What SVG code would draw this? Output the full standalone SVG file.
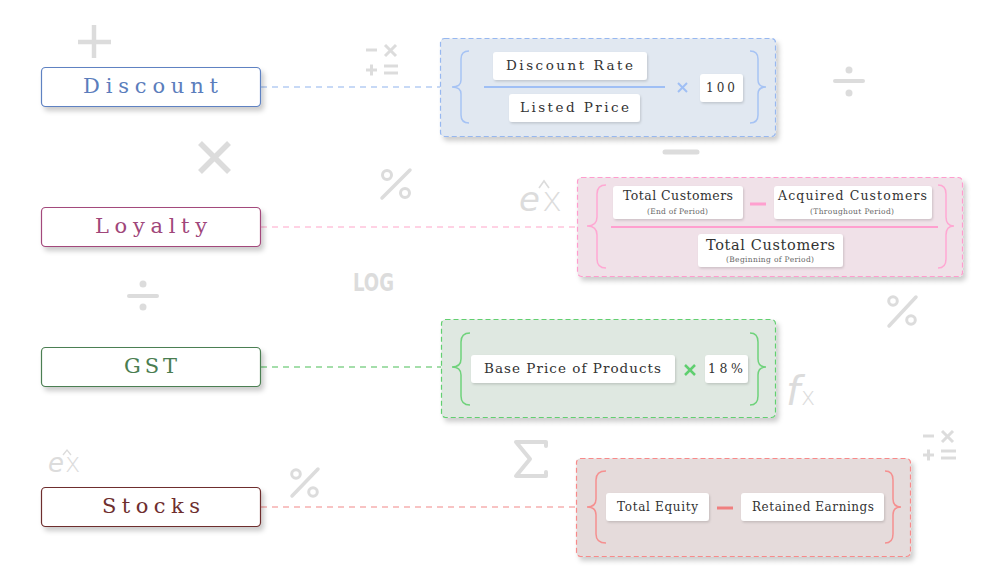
<svg xmlns="http://www.w3.org/2000/svg" width="993" height="574" viewBox="0 0 993 574">
<defs>
<filter id="sh" x="-10%" y="-20%" width="125%" height="150%"><feDropShadow dx="3" dy="4" stdDeviation="2.5" flood-color="#000" flood-opacity="0.2"/></filter>
<filter id="sh2" x="-10%" y="-20%" width="125%" height="150%"><feDropShadow dx="1" dy="1.5" stdDeviation="1.2" flood-color="#000" flood-opacity="0.15"/></filter>
<style>
.node rect{fill:#fff;stroke-width:1.2;filter:url(#sh)}
.node text{font-family:"DejaVu Serif","Liberation Serif",serif;font-size:21px;text-anchor:middle}
.panel{stroke-width:1.2;stroke-dasharray:5 3;filter:url(#sh)}
.box{fill:#fff;filter:url(#sh2)}
.t{font-family:"DejaVu Serif","Liberation Serif",serif;fill:#333;text-anchor:middle}
.s{font-family:"DejaVu Serif","Liberation Serif",serif;fill:#666;text-anchor:middle;font-size:7.5px}
.brace{fill:none;stroke-width:1.5}
.conn line{stroke-width:1.3;stroke-dasharray:6 5}
.ic{stroke:#dcdcdc;fill:none}
.ict{fill:#dcdcdc}
</style>
</defs>
<rect width="993" height="574" fill="#fff"/>

<!-- decorative icons -->
<g id="icons">
<g class="ic" stroke-width="4.5"><line x1="78" y1="42" x2="111" y2="42"/><line x1="94" y1="25" x2="94" y2="58"/></g>
<g class="ic" stroke-width="5.5"><line x1="200" y1="143" x2="229" y2="172"/><line x1="229" y1="143" x2="200" y2="172"/></g>
<g class="ic" stroke-width="3.5" stroke-linecap="round"><line x1="410" y1="170" x2="382" y2="198"/><circle cx="387" cy="175" r="4.5" stroke-width="3"/><circle cx="405" cy="193" r="4.5" stroke-width="3"/></g>
<g class="ic" stroke-width="3.5" stroke-linecap="round"><line x1="318" y1="469" x2="292" y2="496"/><circle cx="296" cy="474" r="4.3" stroke-width="3"/><circle cx="313" cy="492" r="4.3" stroke-width="3"/></g>
<g class="ic" stroke-width="3.5" stroke-linecap="round"><line x1="916" y1="297" x2="889" y2="326"/><circle cx="893" cy="301" r="4.3" stroke-width="3"/><circle cx="911" cy="320" r="4.3" stroke-width="3"/></g>
<g class="ic" stroke-width="3"><line x1="366" y1="50" x2="377" y2="50"/><line x1="385" y1="45" x2="396" y2="56"/><line x1="396" y1="45" x2="385" y2="56"/><line x1="366" y1="70" x2="377" y2="70"/><line x1="371.5" y1="64.5" x2="371.5" y2="75.5"/><line x1="384" y1="66" x2="398" y2="66"/><line x1="384" y1="73" x2="398" y2="73"/></g>
<g class="ic" stroke-width="3"><line x1="923" y1="436" x2="934" y2="436"/><line x1="942" y1="431" x2="953" y2="442"/><line x1="953" y1="431" x2="942" y2="442"/><line x1="923" y1="455" x2="934" y2="455"/><line x1="928.5" y1="449.5" x2="928.5" y2="460.5"/><line x1="941" y1="451" x2="956" y2="451"/><line x1="941" y1="458" x2="956" y2="458"/></g>
<g class="ic" stroke-width="4" stroke-linecap="round"><line x1="835" y1="81" x2="863" y2="81"/></g>
<g class="ict"><circle cx="849" cy="70" r="3.5"/><circle cx="849" cy="93" r="3.5"/></g>
<g class="ic" stroke-width="4" stroke-linecap="round"><line x1="129" y1="296" x2="157" y2="296"/></g>
<g class="ict"><circle cx="143" cy="284" r="3.5"/><circle cx="143" cy="307" r="3.5"/></g>
<line x1="665" y1="152" x2="697" y2="152" stroke="#dcdcdc" stroke-width="5" stroke-linecap="round"/>
<path class="ic" stroke-width="4" stroke-linejoin="round" stroke-linecap="round" d="M546,446 L546,442 L516,442 L530,459 L516,476 L546,476 L546,472"/>
<text x="373.5" y="291" class="ict" font-family="DejaVu Sans" font-weight="bold" font-size="24" text-anchor="middle" textLength="41" lengthAdjust="spacingAndGlyphs">LOG</text>
<text x="786" y="405" class="ict" font-family="DejaVu Sans" font-style="italic" font-size="40" font-weight="200">f<tspan font-size="24" font-style="normal" dx="1">x</tspan></text>
<text x="519" y="211" class="ict" font-family="DejaVu Sans" font-style="italic" font-size="34" font-weight="200">e<tspan font-style="normal" dx="2">x</tspan></text>
<path class="ic" stroke-width="1.6" d="M539,188 L544,181 L549,188"/>
<text x="48" y="472" class="ict" font-family="DejaVu Sans" font-style="italic" font-size="26" font-weight="200">e<tspan font-style="normal" dx="1">x</tspan></text>
<path class="ic" stroke-width="1.3" d="M63,455 L67,450 L71,455"/>
</g>

<!-- connectors -->
<g id="connectors" class="conn">
<line x1="261" y1="87" x2="440" y2="87" stroke="#b5cdf4"/>
<line x1="261" y1="227" x2="577" y2="227" stroke="#ffc3dc"/>
<line x1="261" y1="367" x2="441" y2="367" stroke="#86d38e"/>
<line x1="261" y1="507" x2="576" y2="507" stroke="#f6b0b0"/>
</g>

<!-- left nodes -->
<g id="node-discount" class="node"><rect x="41.5" y="67.5" width="219" height="39" rx="4" stroke="#5f82c2"/><text x="150.5" y="93" fill="#5b7dbc" textLength="135" lengthAdjust="spacing">Discount</text></g>
<g id="node-loyalty" class="node"><rect x="41.5" y="207.5" width="219" height="39" rx="4" stroke="#a3497b"/><text x="151" y="233" fill="#a0467a" textLength="112" lengthAdjust="spacing">Loyalty</text></g>
<g id="node-gst" class="node"><rect x="41.5" y="347.5" width="219" height="39" rx="4" stroke="#4c7f52"/><text x="150.5" y="373" fill="#4a7d50" textLength="53" lengthAdjust="spacing">GST</text></g>
<g id="node-stocks" class="node"><rect x="41.5" y="487.5" width="219" height="39" rx="4" stroke="#6e2e2e"/><text x="151" y="513" fill="#6e2e2e" textLength="98" lengthAdjust="spacing">Stocks</text></g>

<!-- Discount formula -->
<g id="formula-discount">
<rect class="panel" x="440.5" y="38.5" width="335" height="98" rx="4" fill="#e1e8f1" stroke="#97b8f0"/>
<path class="brace" stroke="#a6c3f4" d="M469,51 Q461,51 461,59 L461,80 Q461,87 452,87 Q461,87 461,94 L461,115 Q461,123 469,123"/>
<path class="brace" stroke="#a6c3f4" d="M750,51 Q758,51 758,59 L758,80 Q758,87 766,87 Q758,87 758,94 L758,115 Q758,123 750,123"/>
<rect class="box" x="493" y="52" width="154" height="28" rx="3"/>
<text class="t" x="569.5" y="70" font-size="13.5" textLength="127" lengthAdjust="spacing">Discount Rate</text>
<line x1="484" y1="87" x2="665" y2="87" stroke="#9fbff5" stroke-width="2"/>
<rect class="box" x="509" y="94" width="131" height="28" rx="3"/>
<text class="t" x="574.5" y="112" font-size="13.5" textLength="109" lengthAdjust="spacing">Listed Price</text>
<g stroke="#9fbff5" stroke-width="2"><line x1="678" y1="83" x2="687" y2="92"/><line x1="687" y1="83" x2="678" y2="92"/></g>
<rect class="box" x="700" y="74" width="43" height="28" rx="3"/>
<text class="t" x="720.5" y="92" font-size="12" textLength="29" lengthAdjust="spacing">100</text>
</g>

<!-- Loyalty formula -->
<g id="formula-loyalty">
<rect class="panel" x="577.5" y="177.5" width="385" height="99" rx="4" fill="#f0e1e8" stroke="#ff9dce"/>
<path class="brace" stroke="#ffa8d3" d="M606,185 Q597,185 597,194 L597,217 Q597,226 587,226 Q597,226 597,235 L597,259 Q597,268 606,268"/>
<path class="brace" stroke="#ffa8d3" d="M938,185 Q946,185 946,194 L946,217 Q946,226 954,226 Q946,226 946,235 L946,259 Q946,268 938,268"/>
<rect class="box" x="613" y="186" width="130" height="33" rx="3"/>
<text class="t" x="678" y="200" font-size="12.5" textLength="110" lengthAdjust="spacing">Total Customers</text>
<text class="s" x="677.5" y="214" textLength="61" lengthAdjust="spacing">(End of Period)</text>
<line x1="750" y1="204" x2="766" y2="204" stroke="#ff9fcf" stroke-width="3"/>
<rect class="box" x="774" y="186" width="158" height="33" rx="3"/>
<text class="t" x="852.5" y="200" font-size="12.5" textLength="149" lengthAdjust="spacing">Acquired Customers</text>
<text class="s" x="852" y="214" textLength="84" lengthAdjust="spacing">(Throughout Period)</text>
<line x1="611" y1="227" x2="938" y2="227" stroke="#ff9fcf" stroke-width="2"/>
<rect class="box" x="698" y="234" width="145" height="33" rx="3"/>
<text class="t" x="770.5" y="250" font-size="14.5" textLength="129" lengthAdjust="spacing">Total Customers</text>
<text class="s" x="770" y="262" textLength="88" lengthAdjust="spacing">(Beginning of Period)</text>
</g>

<!-- GST formula -->
<g id="formula-gst">
<rect class="panel" x="441.5" y="319.5" width="334" height="98" rx="4" fill="#dfe8e1" stroke="#62cf70"/>
<path class="brace" stroke="#6fd27b" d="M470,333 Q461,333 461,342 L461,359 Q461,367 452,367 Q461,367 461,375 L461,396 Q461,405 470,405"/>
<path class="brace" stroke="#6fd27b" d="M750,333 Q758,333 758,342 L758,359 Q758,367 766,367 Q758,367 758,375 L758,396 Q758,405 750,405"/>
<rect class="box" x="471" y="355" width="204" height="28" rx="3"/>
<text class="t" x="572.5" y="373" font-size="13.5" textLength="177" lengthAdjust="spacing">Base Price of Products</text>
<g stroke="#5fcf6f" stroke-width="2.5"><line x1="685" y1="365" x2="695" y2="375"/><line x1="695" y1="365" x2="685" y2="375"/></g>
<rect class="box" x="705" y="355" width="43" height="28" rx="3"/>
<text class="t" x="725.5" y="373" font-size="12.5" textLength="35" lengthAdjust="spacing">18%</text>
</g>

<!-- Stocks formula -->
<g id="formula-stocks">
<rect class="panel" x="576.5" y="458.5" width="334" height="98" rx="4" fill="#e5dbdb" stroke="#f88a8a"/>
<path class="brace" stroke="#f59090" d="M606,471 Q596,471 596,480 L596,499 Q596,507 587,507 Q596,507 596,515 L596,534 Q596,543 606,543"/>
<path class="brace" stroke="#f59090" d="M885,471 Q893,471 893,480 L893,499 Q893,507 901,507 Q893,507 893,515 L893,534 Q893,543 885,543"/>
<rect class="box" x="606" y="493" width="103" height="28" rx="3"/>
<text class="t" x="657.5" y="511" font-size="12" textLength="81" lengthAdjust="spacing">Total Equity</text>
<line x1="717" y1="508" x2="733" y2="508" stroke="#f07f7f" stroke-width="3"/>
<rect class="box" x="741" y="493" width="143" height="28" rx="3"/>
<text class="t" x="813" y="511" font-size="12" textLength="122" lengthAdjust="spacing">Retained Earnings</text>
</g>
</svg>
